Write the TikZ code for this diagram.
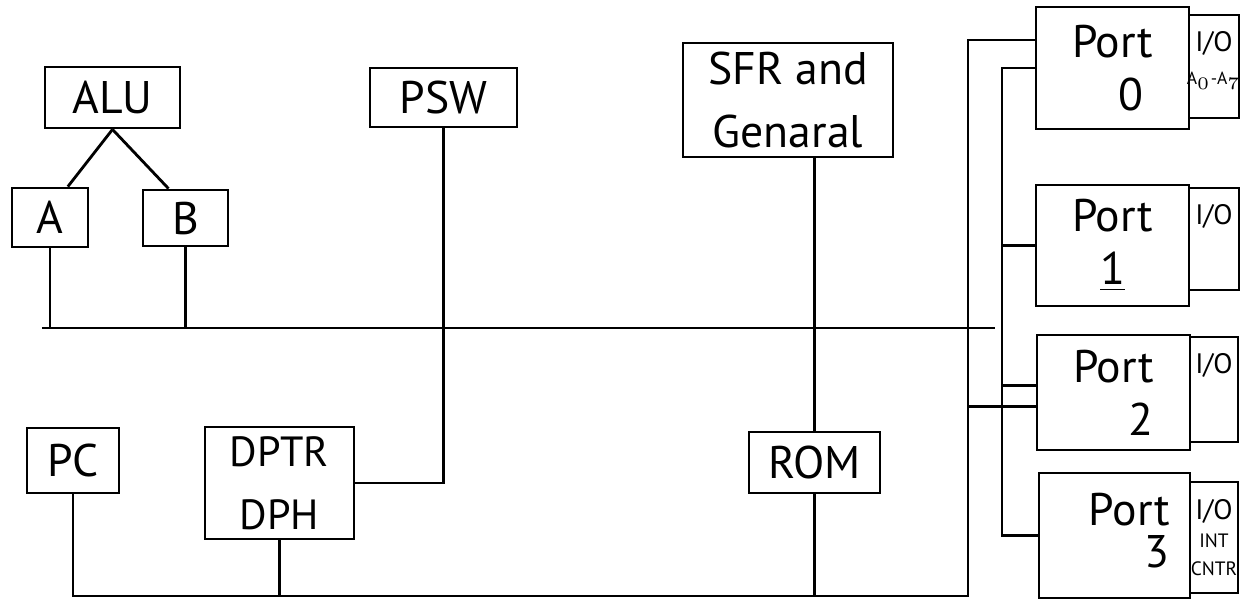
\documentclass[tikz,border=0pt]{standalone}
\usepackage{fontspec}
\setmainfont{PT Sans}
\tikzset{
  blk/.style={draw, line width=0.8pt, inner sep=1pt, align=center, font=\fontsize{13}{16}\selectfont},
  portbox/.style={draw, line width=0.8pt, inner sep=1pt, minimum width=1.53cm, font=\fontsize{13}{15}\selectfont},
  iobox/.style={draw, line width=0.8pt, inner sep=0pt, minimum width=0.5cm, align=center, font=\fontsize{8}{10}\selectfont},
  toplabel/.style={anchor=north, inner sep=0pt, yshift=-5pt, font=\fontsize{8}{10}\selectfont},
  wire/.style={line width=0.8pt}
}
\begin{document}
\begin{tikzpicture}[x=0.01cm, y=-0.01cm]
\useasboundingbox (0,0) rectangle (1247,602);

% ---------- ALU, A and B ----------
\node[blk, minimum width=1.35cm, minimum height=0.61cm] (alu) at (112.5,97.5) {ALU};
\node[blk, minimum width=0.76cm, minimum height=0.59cm] (a) at (50,217.5) {A};
\node[blk, minimum width=0.85cm, minimum height=0.56cm] (b) at (185.5,218) {B};
\draw[wire] (alu.south) -- (a.60);
\draw[wire] (alu.south) -- (b.120);

% ---------- PSW, SFR ----------
\node[blk, minimum width=1.47cm, minimum height=0.59cm] (psw) at (443.5,97.5) {PSW};
\node[blk, minimum width=2.1cm, minimum height=1.14cm, font=\fontsize{13}{18}\selectfont] (sfr) at (788,100) {SFR and\\Genaral};

% ---------- PC, DPTR, ROM ----------
\node[blk, minimum width=0.92cm, minimum height=0.65cm] (pc) at (73,460.5) {PC};
\node[blk, minimum width=1.49cm, minimum height=1.12cm, font=\fontsize{12}{18}\selectfont] (dptr) at (279.5,483) {DPTR\\DPH};
\node[blk, minimum width=1.31cm, minimum height=0.61cm] (rom) at (814.5,462.5) {ROM};

% ---------- Ports ----------
\node[portbox, minimum height=1.22cm, align=center] (port0) at (1112.5,68) {Port\\\hspace{0.8em}0};
\node[portbox, minimum height=1.21cm, align=center] (port1) at (1112.5,245.5) {Port\\\underline{1}};
\node[portbox, minimum height=1.15cm, align=right] (port2) at (1113.5,392.5) {Port\\2};
\node[portbox, minimum width=1.51cm, minimum height=1.25cm,
  label={[anchor=north east, inner sep=0pt, xshift=-6pt, yshift=-6pt, align=right, font=\fontsize{13}{12}\selectfont]north east:Port\\3}] (port3) at (1114.5,535.5) {};

% ---------- I/O ----------
\node[iobox, minimum height=1.03cm, label={[toplabel]north:I/O},
  label={[anchor=center, inner sep=0pt, yshift=-4pt, font=\fontsize{5}{6}\selectfont]center:A$_0$-A$_7$}] (io0) at (1214,66.5) {};
\node[iobox, minimum height=1.02cm, label={[toplabel]north:I/O}] (io1) at (1214,239) {};
\node[iobox, minimum width=0.48cm, minimum height=1.05cm, label={[toplabel]north:I/O}] (io2) at (1214,389.5) {};
\node[iobox, minimum width=0.48cm, minimum height=1.11cm, font=\fontsize{5.5}{8}\selectfont] (io3) at (1214,537.5) {{\fontsize{8}{8}\selectfont I/O}\\INT\\CNTR};

% ---------- buses ----------
\coordinate (busL) at (42,328);
\coordinate (busR) at (995,328);
\coordinate (outT) at (968,40);
\coordinate (outB) at (968,596);
\coordinate (inT) at (1002,68);
\draw[wire] (busL) -- (busR);
\draw[wire] (a.south) -- (a.south |- busL);
\draw[wire] (b.south) -- (b.south |- busL);
\draw[wire] (psw.south) -- (psw.south |- dptr.east) -- (dptr.east);
\draw[wire] (rom.north) -- (rom.north |- sfr.south);
\draw[wire] (rom.south) -- (rom.south |- outB);
\draw[wire] (dptr.south) -- (dptr.south |- outB);
\draw[wire] (pc.south) -- (pc.south |- outB) -- (outB) -- (outT) -- (outT -| port0.west);
\draw[wire] (port2.-170) -- (port2.-170 -| outT);
\draw[wire] (port0.west) -- (inT) -- (inT |- port3.west) -- (port3.west);
\draw[wire] (port1.west) -- (port1.west -| inT);
\draw[wire] (port2.175) -- (port2.175 -| inT);

\end{tikzpicture}
\end{document}
